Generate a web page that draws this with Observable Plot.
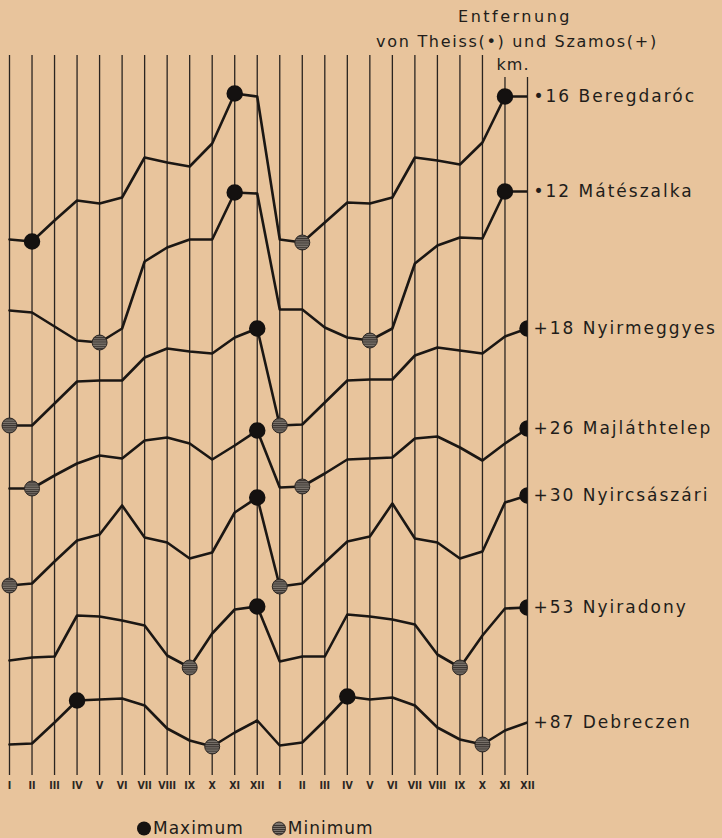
<!DOCTYPE html>
<html><head><meta charset="utf-8">
<script src="https://cdn.jsdelivr.net/npm/d3@7"></script>
<script src="https://cdn.jsdelivr.net/npm/@observablehq/plot@0.6"></script>
<style>
html,body{margin:0;padding:0;background:#e8c49c;}
#wrap{position:relative;width:722px;height:838px;overflow:hidden;font-family:"DejaVu Sans",sans-serif;color:#221d1a;background:#e8c49c;}
#wrap svg{position:absolute;left:0;top:0;}
.hdr{position:absolute;width:400px;text-align:center;white-space:nowrap;font-size:16px;line-height:1;transform:translateY(-50%);}
#legend{position:absolute;left:137px;top:828px;transform:translateY(-50%);font-size:17px;letter-spacing:1px;white-space:nowrap;line-height:1;}
#legend .m{display:inline-block;width:14px;height:14px;border-radius:50%;vertical-align:-2px;margin-right:2px;box-sizing:border-box;}
#legend .max{background:#161311;}
#legend .min{background:repeating-linear-gradient(#3a3430 0 1px,#7a736c 1px 2.2px);border:1px solid #2a2522;margin-left:28px;}
</style></head><body><div id="wrap"></div>
<script>
// Month labels (two consecutive years)
const months = ["I","II","III","IV","V","VI","VII","VIII","IX","X","XI","XII"];
const monthLabels = months.concat(months);

// Stations and their distance from Theiss (•) / Szamos (+), km
const stations = ["Beregdaróc","Mátészalka","Nyirmeggyes","Majláthtelep","Nyircsászári","Nyiradony","Debreczen"];
const distances = ["•16","•12","+18","+26","+30","+53","+87"];

// Relative groundwater level (arbitrary units, stacked), 24 months
const beregdaroc   = [521,519,540,560,557,563,603,598,594,617,667,664, 521,518,538,558,557,563,603,600,596,618,664,664];
const mateszalka   = [450,448,434,420,418,432,499,513,521,521,568,567, 451,451,433,423,420,432,497,515,523,522,569,569];
const nyirmeggyes  = [335,335,357,379,380,380,403,412,409,407,423,432, 335,336,358,380,381,381,405,413,410,407,424,432];
const majlathtelep = [272,272,285,297,305,302,320,323,317,301,315,330, 273,274,287,301,302,303,322,324,313,300,317,332];
const nyircsaszari = [175,177,199,220,226,255,223,218,202,208,248,263, 174,177,198,219,224,257,222,218,202,209,258,265];
const nyiradony    = [100,103,104,145,144,140,135,105, 93,127,151,154,  99,104,104,146,144,141,136,106, 93,125,152,153];
const debreczen    = [ 16, 17, 38, 60, 61, 62, 55, 32, 20, 14, 28, 40,  15, 18, 40, 64, 61, 63, 55, 33, 21, 16, 30, 38];

// Marked extremes: [station index, month index]
const maxima = [[0,1],[0,10],[0,22],[1,10],[1,22],[2,11],[2,23],[3,11],[3,23],[4,11],[4,23],[5,11],[5,23],[6,3],[6,15]];
const minima = [[0,13],[1,4],[1,16],[2,0],[2,12],[3,1],[3,13],[4,0],[4,12],[5,8],[5,20],[6,9],[6,21]];

const headerLines = ["Entfernung","von Theiss(•) und Szamos(+)","km."];
const legendLabels = ["Maximum","Minimum"];

const series = [beregdaroc, mateszalka, nyirmeggyes, majlathtelep, nyircsaszari, nyiradony, debreczen];
const rows = stations.flatMap((s, k) => series[k].map((v, i) => ({station: s, i, v})));
const lastRows = stations.map((s, k) => ({label: distances[k] + " " + s, v: series[k][23]}));
const maxRows = maxima.map(([k, i]) => ({i, v: series[k][i]}));
const minRows = minima.map(([k, i]) => ({i, v: series[k][i]}));
const monthIdx = d3.range(monthLabels.length);

const ink = "#1b1714";
const chart = Plot.plot({
  width: 722, height: 838,
  marginTop: 0, marginLeft: 0, marginRight: 195, marginBottom: 63,
  x: {domain: [0, 23], range: [9, 527], axis: null},
  y: {domain: [-15, 760], axis: null},
  style: {background: "transparent", overflow: "visible"},
  marks: [
    Plot.ruleX(monthIdx, {x: d => d, y1: d => d >= 22 ? 683 : 705, y2: -15, stroke: "#2a2420", strokeWidth: 1.3}),
    Plot.line(rows, {x: "i", y: "v", z: "station", stroke: ink, strokeWidth: 2.6, strokeLinejoin: "round", clip: true}),
    Plot.dot(maxRows, {x: "i", y: "v", r: 7.5, fill: "#141110", stroke: "#141110", clip: true}),
    Plot.dot(minRows, {x: "i", y: "v", r: 7.5, fill: "url(#hatch)", stroke: "#2a2522", strokeWidth: 1, clip: true}),
    Plot.text(monthIdx, {x: d => d, text: d => monthLabels[d], frameAnchor: "bottom", dy: 13, fontSize: 10.5, fontWeight: "bold", fontFamily: "DejaVu Sans Condensed", fill: "#2b2622"}),
    Plot.text(lastRows, {x: d => 23, y: "v", text: "label", dx: 6, textAnchor: "start", fontSize: 17, fontFamily: "DejaVu Sans", fill: "#221d1a"})
  ]
});

const svg = d3.select(chart);
const defs = svg.insert("defs", ":first-child");
const pat = defs.append("pattern").attr("id", "hatch").attr("patternUnits", "userSpaceOnUse").attr("width", 4).attr("height", 2.2);
pat.append("rect").attr("width", 4).attr("height", 2.2).attr("fill", "#7a736c");
pat.append("rect").attr("width", 4).attr("height", 1).attr("fill", "#3a3430");

const textGroups = svg.selectAll('g[aria-label="text"]').nodes();
if (textGroups[1]) d3.select(textGroups[1]).style("letter-spacing", "2px");

const wrap = document.getElementById("wrap");
wrap.appendChild(chart);

const hdrPos = [[515, 17], [517, 42], [513, 65]];
const hdrSpacing = ["2.5px", "1.7px", "1px"];
headerLines.forEach((t, j) => {
  const d = document.createElement("div");
  d.className = "hdr";
  d.textContent = t;
  d.style.left = (hdrPos[j][0] - 200) + "px";
  d.style.top = hdrPos[j][1] + "px";
  d.style.letterSpacing = hdrSpacing[j];
  wrap.appendChild(d);
});

const lg = document.createElement("div");
lg.id = "legend";
lg.innerHTML = `<span class="m max"></span>${legendLabels[0]}<span class="m min"></span>${legendLabels[1]}`;
wrap.appendChild(lg);
</script></body></html>
